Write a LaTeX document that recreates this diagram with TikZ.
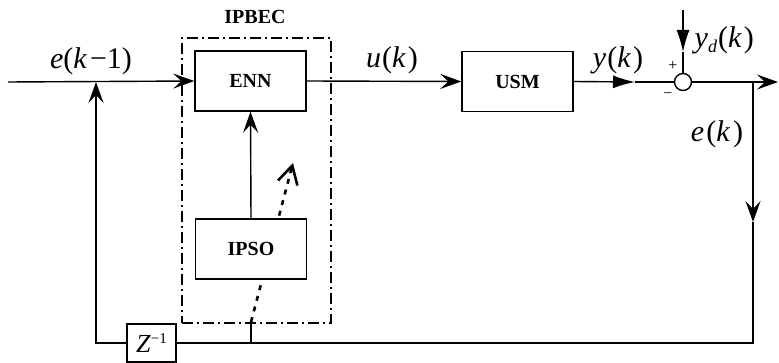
\documentclass[tikz,border=0pt]{standalone}
\usepackage{fontspec}
\setmainfont{Liberation Serif}
\usetikzlibrary{arrows.meta}
\newcommand{\mi}[1]{\textit{#1}}
\begin{document}
\begin{tikzpicture}[x=1pt,y=-1pt, line width=1.4pt,
  blk/.style={draw, line width=1.4pt, minimum width=111pt, minimum height=60pt, inner sep=0pt,
    font=\fontsize{20}{20}\selectfont\bfseries},
  lbl/.style={inner sep=0pt, font=\fontsize{30}{30}\selectfont},
  arr/.style={-{Stealth[length=21pt,width=15pt,inset=8pt]}},
  tri/.style={-{Latex[length=22pt,width=13pt]}},
  dashdotbox/.style={draw, line width=1.2pt, dash pattern=on 11pt off 4pt on 2pt off 4pt, inner sep=0pt},
  dotarrow/.style={line width=2.6pt, dash pattern=on 5pt off 6pt, -{Straight Barb[length=18pt,width=20pt]}}]
\useasboundingbox (0,0) rectangle (779,363);

% coordinates
\coordinate (in) at (8,82);
\coordinate (jn) at (96,82);
\coordinate (cor) at (96,343);
\coordinate (tap) at (251,343);
\coordinate (tapt) at (251,322);
\coordinate (dtip) at (293,163);
\coordinate (ymid) at (635,82);
\coordinate (ydtop) at (683,10);
\coordinate (ydmid) at (683,52);
\coordinate (br) at (753,82);
\coordinate (brmid) at (753,222);
\coordinate (brb) at (753,343);
\coordinate (out) at (778,82);

% dotted adaptation arrow (behind IPSO)
\draw[dotarrow] (tapt) -- (dtip);

% blocks
\node[dashdotbox, minimum width=149pt, minimum height=285pt] (ipbec) at (256.5,180.5) {};
\node[font=\fontsize{20}{20}\selectfont\bfseries, inner sep=0pt] (ipbeclbl) at (255,17) {IPBEC};
\node[blk, fill=white] (enn) at (250.5,81) {ENN};
\node[blk, fill=white] (ipso) at (251,249) {IPSO};
\node[blk] (usm) at (517.5,81.5) {USM};
\node[draw, line width=1.4pt, minimum width=49pt, minimum height=38pt, inner sep=0pt, fill=white,
  font=\fontsize{26}{26}\selectfont] (z) at (151.5,343) {\mi{Z}\raisebox{9pt}{\fontsize{15}{15}\selectfont −1}};
\node[draw, circle, line width=1.4pt, minimum size=17pt, inner sep=0pt] (sum) at (683,82) {};

% connectors
\draw[arr] (in) -- (enn.west);
\draw[arr] (enn.east) -- (usm.west);
\draw[tri] (usm.east) -- (ymid);
\draw (ymid) -- (sum.west);
\draw[tri] (ydtop) -- (ydmid);
\draw (ydmid) -- (sum.north);
\draw[arr] (sum.east) -- (out);
\draw[arr] (br) -- (brmid);
\draw (brmid) -- (brb) -- (z.east);
\draw[arr] (z.west) -- (cor) -- (jn);
\draw (tap) -- (tapt);
\draw[arr] (ipso.north) -- (enn.south);

% labels
\node[lbl] (lek1) at (91,61) {\mi{e}(\mi{k}\hspace{3pt}−1)};
\node[lbl] (luk) at (392,60) {\mi{u}\hspace{1pt}(\mi{k}\hspace{2pt})};
\node[lbl] (lyk) at (618,60) {\mi{y}\hspace{1pt}(\mi{k}\hspace{2pt})};
\node[lbl, anchor=west] (lyd) at (694,40) {\mi{y}\raisebox{-5pt}{\fontsize{18}{18}\selectfont\mi{d}}\hspace{1pt}(\mi{k}\hspace{2pt})};
\node[lbl] (lek) at (717,134) {\mi{e}\hspace{2pt}(\mi{k}\hspace{3pt})};
\node[inner sep=0pt, font=\fontsize{16}{16}\selectfont] (plus) at (673,66) {+};
\node[inner sep=0pt, font=\fontsize{16}{16}\selectfont] (minus) at (668,96) {−};
\end{tikzpicture}
\end{document}
